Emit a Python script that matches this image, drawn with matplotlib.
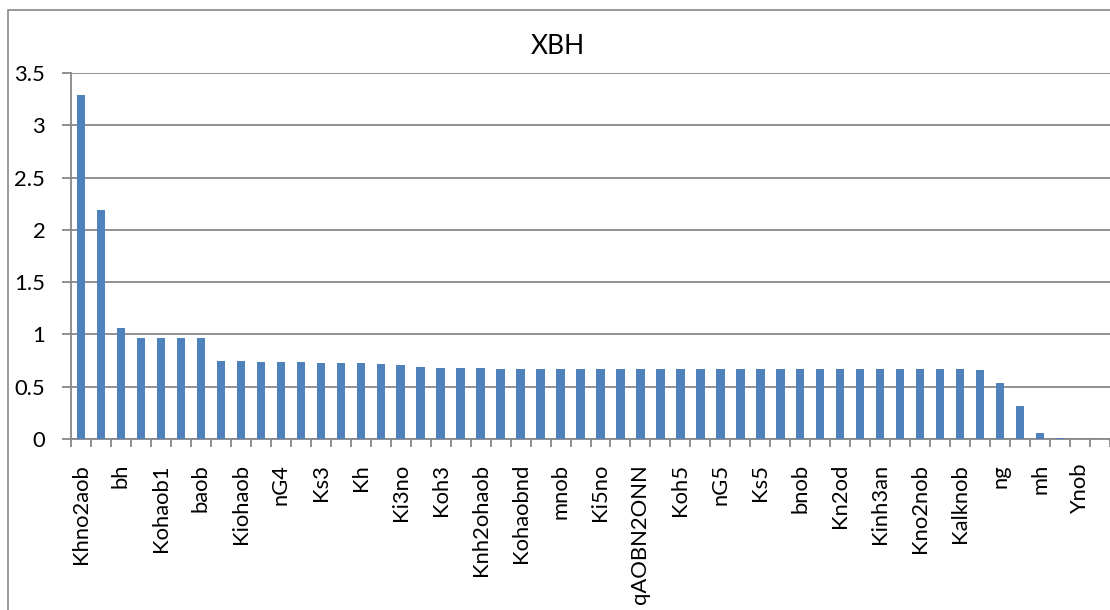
import numpy as np
import matplotlib
matplotlib.use('Agg')
import matplotlib.pyplot as plt
from matplotlib.patches import Rectangle

plt.rcParams['font.family'] = ['Lato', 'DejaVu Sans']

# XBH value per parameter, sorted high to low (52 parameters)
values = [3.29, 2.19, 1.06, 0.97, 0.97, 0.97, 0.97, 0.75, 0.75, 0.74,
          0.74, 0.735, 0.725, 0.725, 0.725, 0.717, 0.71, 0.687, 0.677, 0.677,
          0.677, 0.671, 0.671, 0.671, 0.671, 0.671, 0.671, 0.671, 0.665, 0.665,
          0.665, 0.665, 0.665, 0.665, 0.665, 0.665, 0.665, 0.665, 0.665, 0.665,
          0.665, 0.665, 0.665, 0.665, 0.665, 0.658, 0.54, 0.318, 0.056, 0.008,
          0.0, 0.0]

# only every second parameter name fits under the axis
shown_labels = ['Khno2aob', 'bh', 'Kohaob1', 'baob', 'Kiohaob', 'nG4', 'Ks3', 'Kh',
                'Ki3no', 'Koh3', 'Knh2ohaob', 'Kohaobnd', 'mnob', 'Ki5no',
                'qAOBN2ONN', 'Koh5', 'nG5', 'Ks5', 'bnob', 'Kn2od', 'Kinh3an',
                'Kno2nob', 'Kalknob', 'ng', 'mh', 'Ynob']

yticks = [0, 0.5, 1, 1.5, 2, 2.5, 3, 3.5]
ytick_labels = ['0', '0.5', '1', '1.5', '2', '2.5', '3', '3.5']

W, H = 1110, 610
fig = plt.figure(figsize=(W / 100, H / 100), dpi=100)
grey = '#888888'

# chart frame
fig.patches.append(Rectangle((8 / W, -0.1), 1.2, 1 - 10 / H + 0.1,
                             transform=fig.transFigure, fill=False,
                             edgecolor=grey, linewidth=1.2))

left, right, top, bottom = 71, 1110, 73, 439
ax = fig.add_axes([left / W, 1 - bottom / H, (right - left) / W, (bottom - top) / H])

x = np.arange(len(values))
ax.bar(x, values, width=0.42, color='#4F81BD', zorder=3)

ax.set_xlim(-0.5, len(values) - 0.5)
ax.set_ylim(0, 3.5)
ax.set_yticks(yticks)
ax.set_yticklabels(ytick_labels)
ax.yaxis.grid(True, color=grey, linewidth=1.3, zorder=0)

ax.set_xticks(x[::2])
ax.set_xticklabels(shown_labels, rotation=90)
ax.set_xticks(np.arange(len(values) + 1) - 0.5, minor=True)
ax.tick_params(axis='x', which='major', length=0, pad=18, labelsize=15.8)
ax.tick_params(axis='x', which='minor', length=6, width=1.3, color=grey)
ax.tick_params(axis='y', length=6.5, width=1.3, color=grey, pad=12, labelsize=15.8)

for side in ['top', 'right']:
    ax.spines[side].set_visible(False)
for side in ['left', 'bottom']:
    ax.spines[side].set_color(grey)
    ax.spines[side].set_linewidth(1.3)

fig.text(558 / W, 1 - 47 / H, 'XBH', ha='center', va='center', fontsize=19)

fig.savefig('out.png', dpi=100)
